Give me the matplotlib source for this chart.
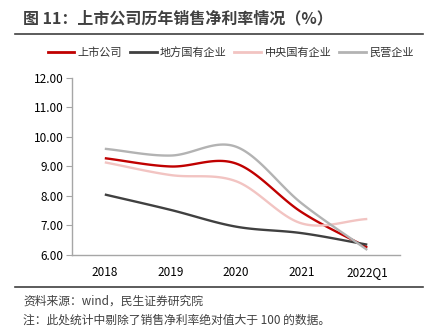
import numpy as np
import matplotlib
matplotlib.use("Agg")
import matplotlib.pyplot as plt
from matplotlib.lines import Line2D

plt.rcParams['font.family'] = ['Noto Sans CJK SC', 'DejaVu Sans']

years = ["2018", "2019", "2020", "2021", "2022Q1"]
listed = [9.28, 9.00, 9.10, 7.45, 6.25]
local_soe = [8.05, 7.53, 6.96, 6.74, 6.35]
central_soe = [9.14, 8.71, 8.50, 7.07, 7.22]
private = [9.60, 9.37, 9.67, 7.75, 6.17]

names = ["上市公司", "地方国有企业", "中央国有企业", "民营企业"]
colors = ["#C00000", "#404040", "#F2C4C2", "#B3B3B3"]


def smooth(x, y, n=30):
    # catmull-rom style smoothing like excel's smoothed line
    x = np.asarray(x, float)
    y = np.asarray(y, float)
    px = np.concatenate([[2 * x[0] - x[1]], x, [2 * x[-1] - x[-2]]])
    py = np.concatenate([[2 * y[0] - y[1]], y, [2 * y[-1] - y[-2]]])
    xs, ys = [], []
    for i in range(1, len(px) - 2):
        t = np.linspace(0, 1, n)
        for arr, out in ((px, xs), (py, ys)):
            p0, p1, p2, p3 = arr[i - 1], arr[i], arr[i + 1], arr[i + 2]
            b1 = p1 + (p2 - p0) / 6
            b2 = p2 - (p3 - p1) / 6
            out.extend((1 - t) ** 3 * p1 + 3 * (1 - t) ** 2 * t * b1
                       + 3 * (1 - t) * t ** 2 * b2 + t ** 3 * p2)
    return xs, ys


fig = plt.figure(figsize=(4.27, 3.29), dpi=100)
ax = fig.add_axes([0.1686, 0.225, 0.7684, 0.538])

x = np.arange(len(years))
for vals, c in zip([listed, local_soe, central_soe, private], colors):
    sx, sy = smooth(x, vals)
    ax.plot(sx, sy, color=c, lw=1.7, solid_capstyle='butt')

ax.set_xlim(-0.5, len(years) - 0.5)
ax.set_ylim(6, 12)
ax.set_yticks(np.arange(6, 12.1, 1))
ax.set_yticklabels([f"{v:.2f}" for v in np.arange(6, 12.1, 1)])
ax.set_xticks(x)
ax.set_xticklabels(years)
for s in ["top", "right"]:
    ax.spines[s].set_visible(False)
for s in ["left", "bottom"]:
    ax.spines[s].set_color("#A6A6A6")
    ax.spines[s].set_linewidth(1.0)
ax.tick_params(axis='y', length=4, color="#A6A6A6", labelsize=8.5, pad=2)
ax.tick_params(axis='x', length=0, labelsize=8.5, pad=8)

handles = [Line2D([], [], color=c, lw=2) for c in colors]
fig.legend(handles, names, loc='center', bbox_to_anchor=(0.54, 0.84), ncol=4,
           frameon=False, fontsize=8, handlelength=2.4, handletextpad=0.3,
           columnspacing=0.7, labelcolor="#333333")

fig.text(0.055, 0.945, "图 11：上市公司历年销售净利率情况（%）", fontsize=11.5,
         fontweight='bold', color="#404040", va='center')
fig.add_artist(Line2D([0.035, 0.99], [0.897, 0.897], color="#404040", lw=1.2))
fig.add_artist(Line2D([0.035, 0.99], [0.128, 0.128], color="#404040", lw=1.2))
fig.text(0.055, 0.085, "资料来源：wind，民生证券研究院", fontsize=8.5,
         color="#404040", va='center')
fig.text(0.055, 0.027, "注：此处统计中剔除了销售净利率绝对值大于 100 的数据。", fontsize=8.5,
         color="#404040", va='center')

fig.savefig("out.png", dpi=100)
